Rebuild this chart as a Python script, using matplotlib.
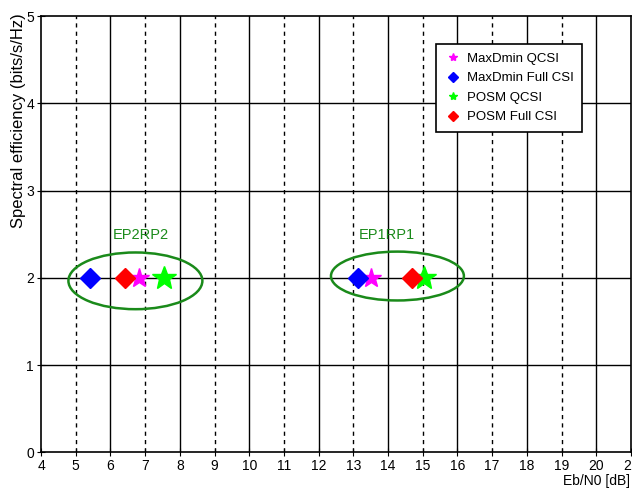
import numpy as np
import matplotlib
matplotlib.use("Agg")
import matplotlib.pyplot as plt
from matplotlib.patches import Ellipse

# Eb/N0 (dB) at spectral efficiency 2 bits/s/Hz
labels = ['MaxDmin QCSI', 'MaxDmin Full CSI', 'POSM QCSI', 'POSM Full CSI']
ep2rp2_x = [6.83, 5.42, 7.53, 6.41]
ep1rp1_x = [13.5, 13.12, 15.03, 14.68]
eff = [2, 2, 2, 2]
colors = ['#ff00ff', '#0000ff', '#00ff00', '#ff0000']
markers = ['*', 'D', '*', 'D']
sizes = [15, 10, 18, 10]

groups = ['EP2RP2', 'EP1RP1']
ell_center = [(6.72, 1.965), (14.27, 2.02)]
ell_size = [(3.86, 0.65), (3.83, 0.56)]
txt_pos = [(6.87, 2.49), (13.96, 2.49)]

W, H = 632, 490
fig = plt.figure(figsize=(W / 100, H / 100), dpi=100)
ax = fig.add_axes([41 / W, 1 - 452.3 / H, 590 / W, 436.3 / H])

ax.set_xlim(4, 21)
ax.set_ylim(0, 5)
ax.set_xticks(np.arange(4, 22, 1))
ax.set_yticks(np.arange(0, 6, 1))

# grille : traits pleins aux pairs, pointillés aux impairs
for xv in range(5, 21):
    ls = '-' if xv % 2 == 0 else (0, (3, 3))
    ax.axvline(xv, color='black', lw=1, ls=ls, zorder=1)
for yv in range(1, 5):
    ax.axhline(yv, color='black', lw=1, zorder=1)

for i in range(4):
    ax.plot(ep2rp2_x[i], eff[i], ls='none', marker=markers[i], color=colors[i],
            markersize=sizes[i], zorder=3)
    ax.plot(ep1rp1_x[i], eff[i], ls='none', marker=markers[i], color=colors[i],
            markersize=sizes[i], zorder=3)

green = '#1a8a1a'
for g, c, s, t in zip(groups, ell_center, ell_size, txt_pos):
    ax.add_patch(Ellipse(c, s[0], s[1], fill=False, edgecolor=green, lw=1.8, zorder=4))
    ax.text(t[0], t[1], g, color=green, fontsize=10.5, ha='center', va='center',
            family='Liberation Sans')

handles = [plt.Line2D([], [], ls='none', marker=markers[i], color=colors[i],
                      markersize=6 if markers[i] == '*' else 5) for i in range(4)]
leg = ax.legend(handles, labels, loc='upper right', bbox_to_anchor=(582 / W, 1 - 44 / H),
                bbox_transform=fig.transFigure, borderaxespad=0,
                frameon=True, fancybox=False, edgecolor='black', framealpha=1,
                prop={'family': 'Liberation Sans', 'size': 9.5}, handletextpad=0.4,
                labelspacing=0.55, borderpad=0.65, handlelength=1.3)
leg.get_frame().set_linewidth(1.2)
leg.set_zorder(5)

for sp in ax.spines.values():
    sp.set_linewidth(1.2)
ax.tick_params(direction='inout', length=6, labelsize=10, pad=2)
for lab in ax.get_xticklabels() + ax.get_yticklabels():
    lab.set_family('Liberation Sans')

ylab = fig.text(19 / W, 1 - 121 / H, 'Spectral efficiency (bits/s/Hz)', rotation=90,
                ha='center', va='center', fontsize=12, family='Liberation Sans')
# ajuster la taille pour couvrir ~218 px comme sur l'original
fig.canvas.draw()
h = ylab.get_window_extent().height
ylab.set_fontsize(12 * 214 / h)

fig.text(630 / W, 1 - 485 / H, 'Eb/N0 [dB]', ha='right', va='baseline', fontsize=10,
         family='Liberation Sans')

fig.savefig('out.png', dpi=100)
